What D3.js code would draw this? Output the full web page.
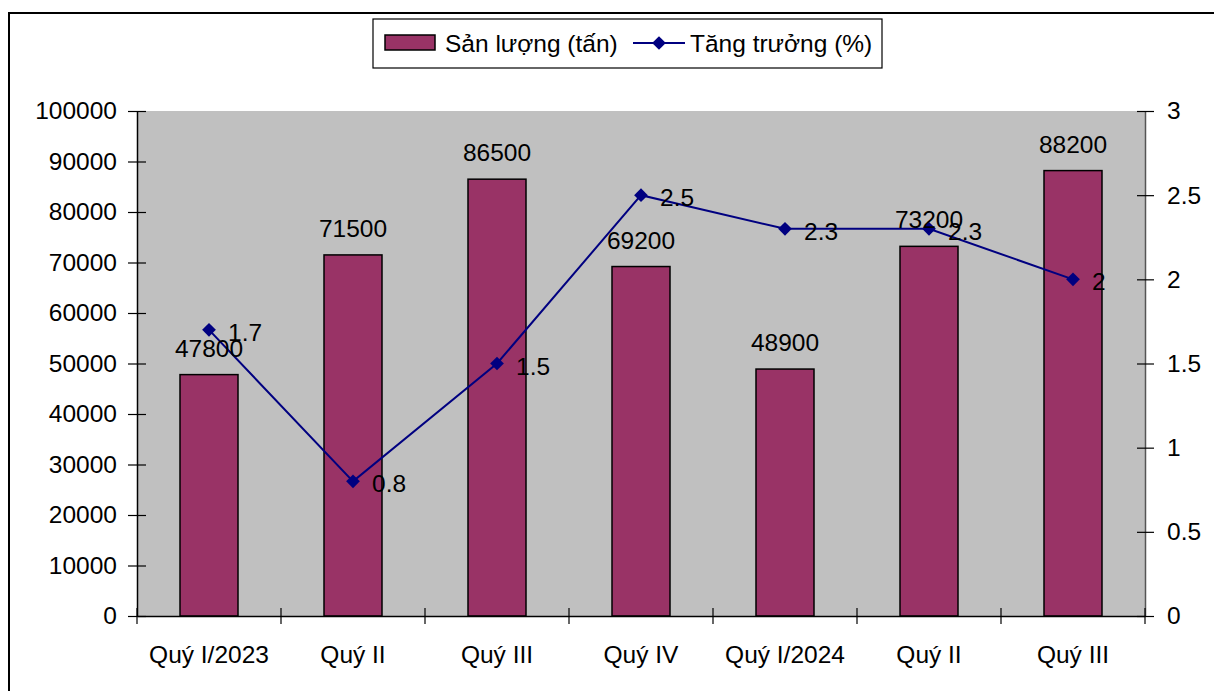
<!DOCTYPE html>
<html><head><meta charset="utf-8">
<script src="https://cdn.jsdelivr.net/npm/d3@7/dist/d3.min.js"></script>
<style>body{margin:0;background:#fff;} svg{display:block;} text{font-family:"Liberation Sans",Arial,sans-serif;}</style>
</head><body>
<svg id="c" width="1214" height="691"></svg>
<script>
const categories = ["Quý I/2023","Quý II","Quý III","Quý IV","Quý I/2024","Quý II","Quý III"];
const production = [47800,71500,86500,69200,48900,73200,88200];
const growth = [1.7,0.8,1.5,2.5,2.3,2.3,2.0];
const leftTicks = [0,10000,20000,30000,40000,50000,60000,70000,80000,90000,100000];
const rightTicks = [0,0.5,1,1.5,2,2.5,3];
const seriesNames = ["Sản lượng (tấn)","Tăng trưởng (%)"];

const svg = d3.select("#c");
const FS = "24.5px";
const L=137, R=1145, T=111, B=616;

svg.append("rect").attr("x",9).attr("y",13).attr("width",1220).attr("height",700)
  .attr("fill","#fff").attr("stroke","#000").attr("stroke-width",2);

const idx = categories.map((d,i)=>i);
const x = d3.scaleBand().domain(idx).range([L,R]).paddingInner(0).paddingOuter(0);
const yL = d3.scaleLinear().domain([0,100000]).range([B,T]);
const yR = d3.scaleLinear().domain([0,3]).range([B,T]);

svg.append("rect").attr("x",L).attr("y",T).attr("width",R-L).attr("height",B-T).attr("fill","#C0C0C0");

// bars
const bw = 58;
svg.selectAll("rect.bar").data(production).enter().append("rect").attr("class","bar")
  .attr("x",(d,i)=>x(i)+x.bandwidth()/2-bw/2).attr("y",d=>yL(d))
  .attr("width",bw).attr("height",d=>B-yL(d))
  .attr("fill","#993366").attr("stroke","#000").attr("stroke-width",1.5);

// left axis
const gl = svg.append("g").attr("transform",`translate(${L},0)`)
  .call(d3.axisLeft(yL).tickValues(leftTicks).tickFormat(d3.format("d")).tickSize(0).tickPadding(20));
gl.select(".domain").attr("stroke","#000").attr("stroke-width",1.5);
gl.selectAll("text").style("font-size",FS).attr("fill","#000");
gl.selectAll(".tick").append("line").attr("x1",-9).attr("x2",9).attr("stroke","#000").attr("stroke-width",1.2);

// right axis
const gr = svg.append("g").attr("transform",`translate(${R},0)`)
  .call(d3.axisRight(yR).tickValues(rightTicks).tickFormat(d=>String(d)).tickSize(0).tickPadding(22));
gr.select(".domain").attr("stroke","#555").attr("stroke-width",1.5);
gr.selectAll("text").style("font-size",FS).attr("fill","#000");
gr.selectAll(".tick").append("line").attr("x1",-8).attr("x2",9).attr("stroke","#000").attr("stroke-width",1.2);

// bottom axis
const gb = svg.append("g").attr("transform",`translate(0,${B})`)
  .call(d3.axisBottom(x).tickFormat(i=>categories[i]).tickSize(0).tickPadding(30));
gb.select(".domain").attr("stroke","#000").attr("stroke-width",1.5);
gb.selectAll("text").style("font-size",FS).attr("fill","#000");
svg.selectAll("line.ct").data(d3.range(categories.length+1)).enter().append("line").attr("class","ct")
  .attr("x1",i=>L+i*x.step()).attr("x2",i=>L+i*x.step())
  .attr("y1",B-8).attr("y2",B+8).attr("stroke","#000").attr("stroke-width",1.2);

// line
const cx = i=>x(i)+x.bandwidth()/2;
svg.append("path").datum(growth)
  .attr("d",d3.line().x((d,i)=>cx(i)).y(d=>yR(d)))
  .attr("fill","none").attr("stroke","#000080").attr("stroke-width",2);
const diamond = d3.symbol().type(d3.symbolDiamond2).size(120);
svg.selectAll("path.mk").data(growth).enter().append("path").attr("class","mk")
  .attr("d",diamond).attr("transform",(d,i)=>`translate(${cx(i)},${yR(d)})`)
  .attr("fill","#000080");

// bar labels
svg.selectAll("text.bl").data(production).enter().append("text").attr("class","bl")
  .attr("x",(d,i)=>cx(i)).attr("y",d=>yL(d)-18).attr("text-anchor","middle")
  .style("font-size",FS).text(d=>d);
// line labels
svg.selectAll("text.ll").data(growth).enter().append("text").attr("class","ll")
  .attr("x",(d,i)=>cx(i)+19).attr("y",d=>yR(d)+11)
  .style("font-size",FS).text(d=>String(d));

// legend
const lg = svg.append("g");
lg.append("rect").attr("x",373).attr("y",19).attr("width",509).attr("height",49)
  .attr("fill","#fff").attr("stroke","#000").attr("stroke-width",1.2);
lg.append("rect").attr("x",385).attr("y",35).attr("width",50).attr("height",15)
  .attr("fill","#993366").attr("stroke","#000").attr("stroke-width",1.5);
lg.append("text").attr("x",445).attr("y",52).style("font-size",FS).text(seriesNames[0]);
lg.append("line").attr("x1",633).attr("x2",685).attr("y1",43).attr("y2",43).attr("stroke","#000080").attr("stroke-width",2);
lg.append("path").attr("d",diamond).attr("transform","translate(659,43)").attr("fill","#000080");
lg.append("text").attr("x",690).attr("y",52).style("font-size",FS).text(seriesNames[1]);
</script>
</body></html>
